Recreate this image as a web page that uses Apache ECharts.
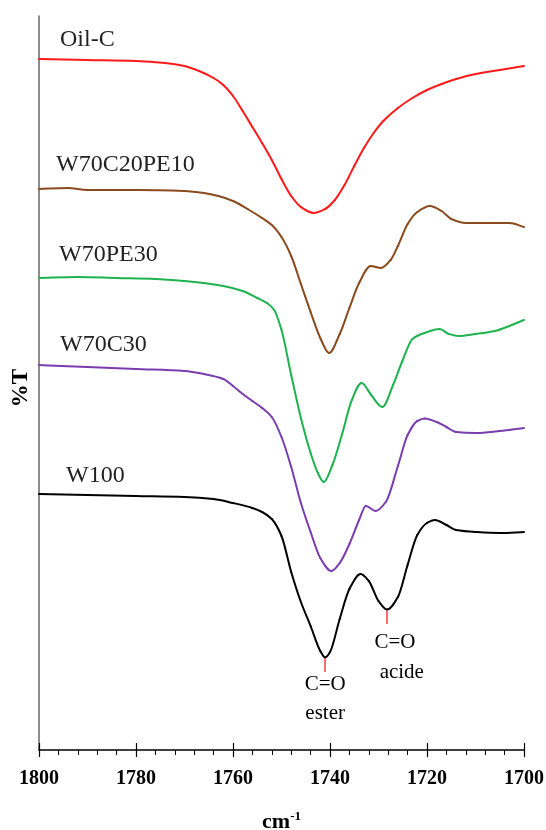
<!DOCTYPE html>
<html>
<head>
<meta charset="utf-8">
<script src="https://cdn.jsdelivr.net/npm/echarts@6/dist/echarts.min.js"></script>
<style>
  html, body { margin: 0; padding: 0; background: #fff; }
  #chart { width: 546px; height: 830px; }
</style>
</head>
<body>
<div id="chart"></div>
<script>
// wavenumber (cm-1), %T offset (arbitrary units, stacked spectra)
const oilC = [
  [1800, 691], [1790, 690], [1780, 689], [1774, 687], [1770, 684], [1767, 679], [1764, 672],
  [1762, 665], [1760, 654], [1758, 639], [1756, 623], [1754, 607], [1752, 590], [1750, 571],
  [1748, 554], [1746, 543], [1743.4, 537], [1741, 541], [1739, 550], [1737, 565], [1735, 584],
  [1733, 602], [1731, 617], [1729, 629], [1726, 642], [1723, 652], [1720, 660], [1717, 666],
  [1714, 671], [1710, 676], [1705, 680], [1700, 684]
]
const w70c20pe10 = [
  [1800, 561], [1794, 562], [1790, 560], [1780, 560], [1770, 559], [1766, 557], [1763, 554],
  [1760, 549], [1757, 541], [1754, 532], [1752, 525], [1750, 513], [1748, 494], [1746, 466],
  [1744, 438], [1742, 412], [1740.2, 397], [1738, 416], [1736, 442], [1734, 467], [1731.6, 484],
  [1729.5, 482], [1727.5, 490], [1726, 504], [1724, 526], [1722, 538], [1719.4, 544], [1717, 539],
  [1715, 531], [1712, 527], [1708, 527], [1703, 527], [1700, 523]
]
const w70pe30 = [
  [1800, 472], [1792, 473], [1784, 472], [1776, 471], [1770, 469], [1766, 467], [1762, 464],
  [1758, 459], [1755, 452], [1753, 447], [1751.5, 440], [1750, 420], [1748, 375], [1746, 332],
  [1744, 297], [1742.5, 277], [1741.3, 268], [1739.5, 285], [1737.5, 316], [1735.5, 350],
  [1733.5, 367], [1731.5, 355], [1729.2, 343], [1727, 365], [1725, 390], [1723, 411],
  [1720.5, 417], [1717.4, 421], [1715.5, 416], [1713.5, 414], [1710, 416], [1706, 419],
  [1703, 424], [1700, 430]
]
const w70c30 = [
  [1800, 385], [1790, 383], [1780, 381], [1770, 379], [1766, 376], [1762, 371], [1760, 364],
  [1758, 356], [1756, 349], [1754, 342], [1752, 333], [1750, 313], [1748, 283], [1746, 247],
  [1744, 218], [1742, 192], [1739.7, 179], [1738, 187], [1736, 206], [1734, 230], [1732.6, 244],
  [1730.6, 239], [1728.5, 248], [1726, 284], [1724, 315], [1722, 329], [1720.5, 331.5],
  [1718, 328], [1716, 323], [1714, 318], [1710, 317], [1705, 319], [1700, 322]
]
const w100 = [
  [1800, 256], [1790, 255], [1780, 254], [1770, 253], [1764, 251], [1760, 247], [1756, 242],
  [1754, 238], [1752, 231], [1750, 214], [1748, 178], [1746, 148], [1744, 124], [1742, 99],
  [1741, 92.5], [1740, 98], [1738, 131], [1736, 161], [1733.7, 176], [1732, 169], [1730, 149],
  [1728.2, 140.5], [1726, 153], [1724, 185], [1722, 215], [1720, 227], [1718.4, 230],
  [1716, 225], [1714, 220], [1710, 218], [1705, 217], [1700, 218]
]

const names = ['Oil-C', 'W70C20PE10', 'W70PE30', 'W70C30', 'W100']
const colors = ['#ff1a1a', '#8b4a1e', '#1fb34f', '#7a3db0', '#000000']
const spectra = [oilC, w70c20pe10, w70pe30, w70c30, w100]

// red marker ticks under the two C=O bands of W100
const peakTicks = [
  [[1741, 92], [1741, 78]],
  [[1728.2, 140], [1728.2, 126]]
]
// annotation texts [wavenumber, value, text]
const notes = [
  [1741, 66, 'C=O'], [1741, 37, 'ester'],
  [1726.6, 108, 'C=O'], [1725.2, 78, 'acide']
]

const serif = 'Liberation Serif'
const chart = echarts.init(document.getElementById('chart'))

// monotone (pchip) slope at point k of pixel points P
function slope(P, k) {
  const n = P.length
  if (k === 0) return (P[1][1] - P[0][1]) / (P[1][0] - P[0][0])
  if (k === n - 1) return (P[n - 1][1] - P[n - 2][1]) / (P[n - 1][0] - P[n - 2][0])
  const h0 = P[k][0] - P[k - 1][0]
  const h1 = P[k + 1][0] - P[k][0]
  const d0 = (P[k][1] - P[k - 1][1]) / h0
  const d1 = (P[k + 1][1] - P[k][1]) / h1
  if (d0 * d1 <= 0) return 0
  const w1 = 2 * h1 + h0
  const w2 = h1 + 2 * h0
  return (w1 + w2) / (w1 / d0 + w2 / d1)
}

// each data item draws the smooth piece from itself to the next point
const spectrumSeries = spectra.map((d, i) => ({
  name: names[i],
  type: 'custom',
  data: d,
  encode: { x: 0, y: 1 },
  silent: true,
  z: 3,
  renderItem: (params, api) => {
    const k = params.dataIndex
    if (k >= d.length - 1) return null
    const P = d.map(p => api.coord(p))
    const a = P[k]
    const b = P[k + 1]
    const h = b[0] - a[0]
    const m0 = slope(P, k)
    const m1 = slope(P, k + 1)
    return {
      type: 'bezierCurve',
      shape: {
        x1: a[0], y1: a[1], x2: b[0], y2: b[1],
        cpx1: a[0] + h / 3, cpy1: a[1] + m0 * h / 3,
        cpx2: b[0] - h / 3, cpy2: b[1] - m1 * h / 3
      },
      style: { stroke: colors[i], lineWidth: 2, fill: null, lineCap: 'round' }
    }
  }
}))

const option = {
  animation: false,
  backgroundColor: '#fff',
  grid: { left: 39, right: 22, top: 16, bottom: 80, containLabel: false, outerBoundsMode: 'none' },
  xAxis: [
    {
      type: 'value',
      min: 1700,
      max: 1800,
      interval: 20,
      inverse: true,
      position: 'bottom',
      name: '{a|cm}{b|-1}',
      nameLocation: 'middle',
      nameGap: 60,
      nameTextStyle: {
        rich: {
          a: { fontFamily: serif, fontWeight: 'bold', fontSize: 22, color: '#000' },
          b: { fontFamily: serif, fontWeight: 'bold', fontSize: 13, color: '#000', verticalAlign: 'top', padding: [0, 0, 12, 0] }
        }
      },
      axisLine: { lineStyle: { color: '#000', width: 1.5 } },
      axisTick: { show: true, inside: false, length: 7, lineStyle: { color: '#000', width: 1.2 } },
      minorTick: { show: true, splitNumber: 5, length: 5, lineStyle: { color: '#000', width: 1 } },
      axisLabel: {
        fontFamily: serif, fontWeight: 'bold', fontSize: 20, color: '#000', margin: 19,
        formatter: v => String(v)
      },
      splitLine: { show: false }
    },
    {
      type: 'value',
      min: 1700,
      max: 1800,
      interval: 20,
      inverse: true,
      position: 'bottom',
      axisLine: { show: false },
      axisTick: { show: true, inside: true, length: 7, lineStyle: { color: '#000', width: 1.2 } },
      axisLabel: { show: false },
      splitLine: { show: false }
    }
  ],
  yAxis: {
    type: 'value',
    min: 0,
    max: 734,
    axisLine: { show: true, lineStyle: { color: '#666', width: 1.5 } },
    axisTick: { show: false },
    axisLabel: { show: false },
    splitLine: { show: false }
  },
  series: spectrumSeries.concat([{
    type: 'scatter',
    data: notes,
    symbolSize: 0,
    silent: true,
    itemStyle: { opacity: 1, color: '#000' },
    label: {
      show: true,
      position: 'inside',
      formatter: p => p.value[2],
      fontFamily: serif,
      fontSize: 21,
      color: '#000',
      textBorderWidth: 0
    },
    markLine: {
      silent: true,
      symbol: 'none',
      label: { show: false },
      lineStyle: { color: '#f04040', width: 1.5, type: 'solid' },
      data: peakTicks.map(p => [{ coord: p[0] }, { coord: p[1] }])
    },
    z: 4
  }]),
  graphic: [
    {
      type: 'text', x: 21, y: 388, rotation: Math.PI / 2,
      style: { text: '%T', font: 'bold 23px "Liberation Serif"', fill: '#000', align: 'center', verticalAlign: 'middle' }
    },
    { type: 'text', left: 60, top: 28, style: { text: 'Oil-C', font: '24px "Liberation Serif"', fill: '#222' } },
    { type: 'text', left: 56, top: 153, style: { text: 'W70C20PE10', font: '24px "Liberation Serif"', fill: '#222' } },
    { type: 'text', left: 59, top: 243, style: { text: 'W70PE30', font: '24px "Liberation Serif"', fill: '#222' } },
    { type: 'text', left: 60, top: 333, style: { text: 'W70C30', font: '24px "Liberation Serif"', fill: '#222' } },
    { type: 'text', left: 66, top: 464, style: { text: 'W100', font: '24px "Liberation Serif"', fill: '#222' } }
  ]
}

chart.setOption(option)
</script>
</body>
</html>
